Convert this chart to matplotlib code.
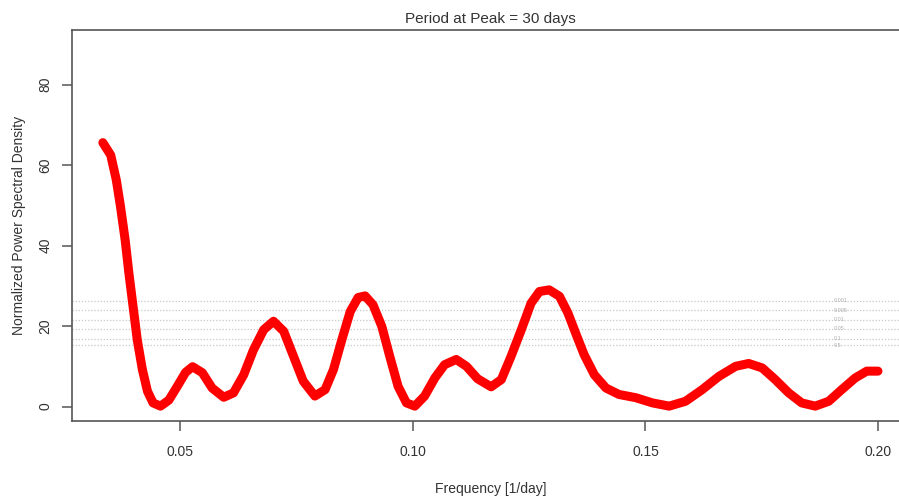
import matplotlib
matplotlib.use("Agg")
import matplotlib.pyplot as plt

# frequency [1/day] and normalized power
freq = [0.0333, 0.0350, 0.0362, 0.0371, 0.0381, 0.0389, 0.0398, 0.0407, 0.0418,
        0.0429, 0.0441, 0.0457, 0.0475, 0.0493, 0.0511, 0.0526, 0.0547, 0.0568,
        0.0593, 0.0614, 0.0636, 0.0657, 0.0679, 0.0700, 0.0722, 0.0743, 0.0764,
        0.0789, 0.0811, 0.0829, 0.0847, 0.0865, 0.0882, 0.0897, 0.0914, 0.0933,
        0.0950, 0.0968, 0.0986, 0.1004, 0.1025, 0.1047, 0.1068, 0.1093, 0.1115,
        0.1139, 0.1168, 0.1190, 0.1211, 0.1233, 0.1254, 0.1272, 0.1293, 0.1315,
        0.1333, 0.1351, 0.1368, 0.1390, 0.1415, 0.1443, 0.1479, 0.1515, 0.1551,
        0.1586, 0.1622, 0.1658, 0.1694, 0.1722, 0.1751, 0.1779, 0.1808, 0.1836,
        0.1865, 0.1894, 0.1922, 0.1951, 0.1976, 0.2000]
power = [65.6, 62.5, 56.3, 49.7, 41.4, 33.2, 24.9, 16.6, 9.2,
         3.8, 0.9, 0.1, 1.6, 5.0, 8.5, 9.9, 8.4, 4.6,
         2.3, 3.4, 7.9, 14.1, 19.1, 21.2, 18.7, 12.5, 6.3,
         2.6, 4.2, 9.2, 16.6, 23.6, 27.1, 27.5, 25.3, 19.9,
         12.5, 5.0, 0.9, 0.1, 2.6, 7.1, 10.4, 11.7, 10.0,
         6.9, 4.9, 6.7, 12.5, 19.1, 25.7, 28.6, 29.0, 27.4,
         23.3, 17.9, 12.9, 7.9, 4.6, 3.0, 2.2, 0.9, 0.1,
         1.3, 4.2, 7.5, 10.0, 10.7, 9.6, 6.7, 3.4, 0.9,
         0.1, 1.3, 4.2, 7.1, 8.8, 8.8]

# significance levels (dotted lines)
sig_levels = [26.3, 23.9, 21.6, 19.3, 16.9, 15.2]
sig_labels = ["0.001", "0.005", "0.01", "0.05", "0.1", "0.5"]

plt.rcParams['font.family'] = ['Liberation Sans', 'DejaVu Sans']

fig = plt.figure(figsize=(8.99, 4.97), dpi=100)
ax = fig.add_axes([0.0801, 0.1529, 0.931, 0.7867])

for lev, lab in zip(sig_levels, sig_labels):
    ax.axhline(lev, color='#c8c8c8', lw=0.9, ls=(0, (1, 1.5)), zorder=1)
    ax.text(0.1905, lev, lab, fontsize=4, color='#b0b0b0', va='center', ha='left')

ax.plot(freq, power, color='red', lw=6.5, solid_capstyle='round',
        solid_joinstyle='round', zorder=3)

ax.set_xlim(0.02667, 0.20667)
ax.set_ylim(-3.6, 93.6)
ax.set_xticks([0.05, 0.10, 0.15, 0.20])
ax.set_xticklabels(["0.05", "0.10", "0.15", "0.20"])
ax.set_yticks([0, 20, 40, 60, 80])
for lbl in ax.get_yticklabels():
    lbl.set_rotation(90)
    lbl.set_va('center')

for s in ax.spines.values():
    s.set_color('#555555')
    s.set_linewidth(1.2)
ax.tick_params(colors='#555555', labelcolor='#333333', length=7, width=1.1,
               labelsize=10, direction='out')
ax.tick_params(axis='x', pad=10)
ax.tick_params(axis='y', pad=7)

ax.set_title("Period at Peak = 30 days", fontsize=11, color='#333333', pad=5)
ax.set_xlabel("Frequency [1/day]", fontsize=10, color='#333333', labelpad=17)
ax.set_ylabel("Normalized Power Spectral Density", fontsize=10, color='#333333',
              labelpad=9)

fig.savefig("out.png", dpi=100)
